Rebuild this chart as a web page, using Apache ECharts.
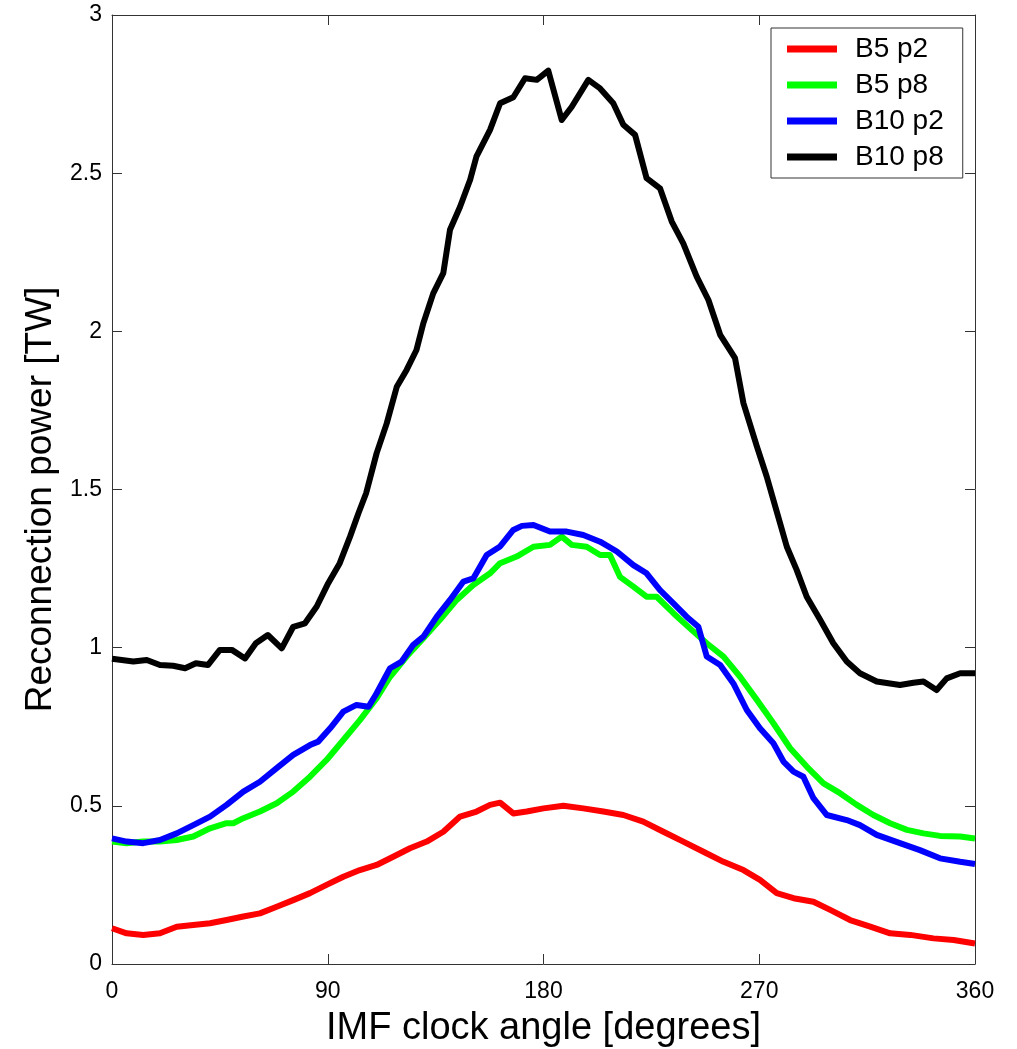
<!DOCTYPE html>
<html>
<head>
<meta charset="utf-8">
<script src="https://cdn.jsdelivr.net/npm/echarts@6/dist/echarts.min.js"></script>
<style>
html,body{margin:0;padding:0;background:#fff;}
#chart{width:1017px;height:1049px;}
</style>
</head>
<body>
<div id="chart"></div>
<script>
// ---- data ----
const seriesNames = ['B5 p2', 'B5 p8', 'B10 p2', 'B10 p8'];
const seriesColors = ['#ff0000', '#00ff00', '#0000ff', '#000000'];
const xTicks = [0, 90, 180, 270, 360];
const yTicks = [0, 0.5, 1, 1.5, 2, 2.5, 3];

const b5p2Angle = [0,6.1,13,20,27,33.9,40.9,47.8,54.8,61.7,68.7,75.6,82.6,89.5,96.5,103.4,110.4,117.3,124.3,131.3,138.2,145.2,152.1,157.7,161.9,167.4,173,180,188.3,196.6,205,213.3,221.6,230,238.3,246.7,255.1,263.4,270.3,277.3,284.3,292.6,299.6,307.9,316.3,324.6,333,342.7,351.1,360];
const b5p2Power = [0.113,0.097,0.092,0.097,0.118,0.123,0.129,0.139,0.150,0.160,0.181,0.202,0.224,0.250,0.276,0.297,0.313,0.339,0.366,0.387,0.418,0.466,0.482,0.503,0.510,0.476,0.482,0.492,0.500,0.492,0.482,0.471,0.450,0.418,0.387,0.355,0.323,0.297,0.266,0.224,0.208,0.197,0.171,0.139,0.118,0.097,0.092,0.081,0.076,0.065];

const b5p8Angle = [0,6.1,13,20,27,33.9,40.9,47.8,50.6,54.8,61.7,68.7,75.6,82.6,89.5,96.5,103.4,110.4,116,122.9,129.9,136.8,143.8,150.7,157.7,161.9,168.8,175.8,182.7,187.6,191.8,198,203.6,207.7,211.9,217.5,223,227.2,234.2,241.1,248.1,255.1,262,269,275.9,282.9,289.8,296.8,303.7,310.7,317.6,324.6,331.6,338.5,345.4,353.8,360];
const b5p8Power = [0.387,0.382,0.387,0.387,0.392,0.403,0.429,0.445,0.445,0.461,0.482,0.508,0.545,0.592,0.645,0.708,0.771,0.840,0.908,0.972,1.030,1.088,1.151,1.198,1.235,1.267,1.288,1.319,1.325,1.351,1.325,1.319,1.293,1.293,1.224,1.193,1.161,1.161,1.109,1.061,1.014,0.972,0.908,0.835,0.761,0.682,0.624,0.571,0.540,0.503,0.471,0.445,0.424,0.413,0.405,0.403,0.397];

const b10p2Angle = [0,6.1,13,20,27,33.9,40.9,47.8,54.8,61.7,68.7,75.6,82.6,86,91,96.5,102,107,110.4,116,120.8,125.7,129.9,135.5,141,146.6,150.7,156.3,161.9,167.4,171,175.8,182.7,189.7,196.6,203.6,210.6,217.5,223,228.6,234.2,239.7,244.6,248.1,253.7,259.2,264.8,270.3,275.9,280.1,284.3,288.4,292.6,298.2,306.5,312,319,328.7,337,345.4,353.8,360];
const b10p2Power = [0.397,0.387,0.382,0.392,0.413,0.439,0.466,0.503,0.545,0.576,0.619,0.661,0.692,0.703,0.745,0.798,0.819,0.813,0.856,0.935,0.956,1.009,1.035,1.098,1.151,1.209,1.219,1.293,1.320,1.372,1.385,1.388,1.367,1.367,1.356,1.335,1.304,1.261,1.235,1.182,1.140,1.098,1.066,0.972,0.945,0.887,0.803,0.745,0.698,0.640,0.608,0.592,0.524,0.471,0.455,0.439,0.408,0.382,0.360,0.334,0.323,0.316];

const b10p8Angle = [0,8.9,14.5,20,25.5,30.5,35,40,45,50,55.5,60,65,70.8,75.6,80.5,85.4,90.2,95,99.3,102.8,106,110.4,114.6,118.8,122.9,127,129.9,134,138.2,141,145.2,149.4,152,157.7,161.9,167.4,172.3,177.2,182,187.6,191.8,198.7,203.6,209.1,213.3,218.2,223,228.6,233.5,238.3,243.9,248.8,253.7,259.9,263.4,269,273.1,277.3,281.5,285.6,289.8,295.4,300.9,306.5,312,319,328.7,334.3,338.5,344,348.2,353.8,360];
const b10p8Power = [0.965,0.956,0.961,0.945,0.943,0.935,0.951,0.945,0.993,0.993,0.966,1.014,1.040,0.998,1.066,1.077,1.130,1.204,1.267,1.351,1.425,1.488,1.615,1.709,1.825,1.878,1.941,2.026,2.120,2.184,2.321,2.394,2.479,2.552,2.637,2.721,2.740,2.800,2.795,2.824,2.668,2.710,2.795,2.768,2.721,2.653,2.621,2.484,2.452,2.347,2.278,2.173,2.099,1.989,1.915,1.773,1.636,1.541,1.430,1.319,1.246,1.161,1.088,1.014,0.956,0.919,0.893,0.882,0.889,0.893,0.866,0.903,0.919,0.919];

const allAngles = [b5p2Angle, b5p8Angle, b10p2Angle, b10p8Angle];
const allPowers = [b5p2Power, b5p8Power, b10p2Power, b10p8Power];

// ---- chart ----
const FONT = '"Liberation Sans", Arial, Helvetica, sans-serif';
const chart = echarts.init(document.getElementById('chart'), null, {renderer: 'canvas'});

const axisLineStyle = {color: '#333', width: 1};
const tickStyle = {show: true, inside: true, length: 10, lineStyle: {color: '#333', width: 1}};

const series = seriesNames.map((name, i) => ({
  name: name,
  type: 'line',
  xAxisIndex: 0,
  yAxisIndex: 0,
  data: allAngles[i].map((a, k) => [a, allPowers[i][k]]),
  showSymbol: false,
  symbol: 'none',
  smooth: false,
  animation: false,
  lineStyle: {color: seriesColors[i], width: 6, join: 'round', cap: 'butt'},
  itemStyle: {color: seriesColors[i]},
  z: 2 + i
}));

chart.setOption({
  backgroundColor: '#ffffff',
  animation: false,
  grid: {left: 112, right: 42, top: 15, bottom: 85, containLabel: false, outerBoundsMode: 'none'},
  legend: {
    data: seriesNames,
    orient: 'vertical',
    left: 771,
    top: 28,
    backgroundColor: '#ffffff',
    borderColor: '#333',
    borderWidth: 1,
    borderRadius: 0,
    padding: [7, 19, 7, 16],
    itemWidth: 50,
    itemHeight: 7,
    itemGap: 8,
    icon: 'rect',
    selectedMode: false,
    textStyle: {fontFamily: FONT, fontSize: 28, color: '#000', lineHeight: 28, padding: [0, 0, 0, 13]}
  },
  xAxis: [
    {
      type: 'value', position: 'bottom', min: 0, max: 360, interval: 90,
      name: 'IMF clock angle [degrees]', nameLocation: 'middle', nameGap: 46,
      nameTextStyle: {fontFamily: FONT, fontSize: 38, color: '#000'},
      axisLine: {show: true, onZero: false, lineStyle: axisLineStyle},
      axisTick: tickStyle,
      axisLabel: {show: true, margin: 16, fontFamily: FONT, fontSize: 23, color: '#000',
        formatter: v => xTicks.includes(v) ? String(v) : ''},
      splitLine: {show: false}
    },
    {
      type: 'value', position: 'top', min: 0, max: 360, interval: 90,
      axisLine: {show: true, onZero: false, lineStyle: axisLineStyle},
      axisTick: tickStyle,
      axisLabel: {show: false},
      splitLine: {show: false}
    }
  ],
  yAxis: [
    {
      type: 'value', position: 'left', min: 0, max: 3, interval: 0.5,
      name: 'Reconnection power [TW]', nameLocation: 'middle', nameGap: 52,
      nameTextStyle: {fontFamily: FONT, fontSize: 37, color: '#000', padding: [0, 20, 0, 0]},
      axisLine: {show: true, onZero: false, lineStyle: axisLineStyle},
      axisTick: tickStyle,
      axisLabel: {show: true, margin: 10, fontFamily: FONT, fontSize: 23, color: '#000',
        formatter: v => yTicks.includes(v) ? String(v) : ''},
      splitLine: {show: false}
    },
    {
      type: 'value', position: 'right', min: 0, max: 3, interval: 0.5,
      axisLine: {show: true, onZero: false, lineStyle: axisLineStyle},
      axisTick: tickStyle,
      axisLabel: {show: false},
      splitLine: {show: false}
    }
  ],
  series: series
});
</script>
</body>
</html>
